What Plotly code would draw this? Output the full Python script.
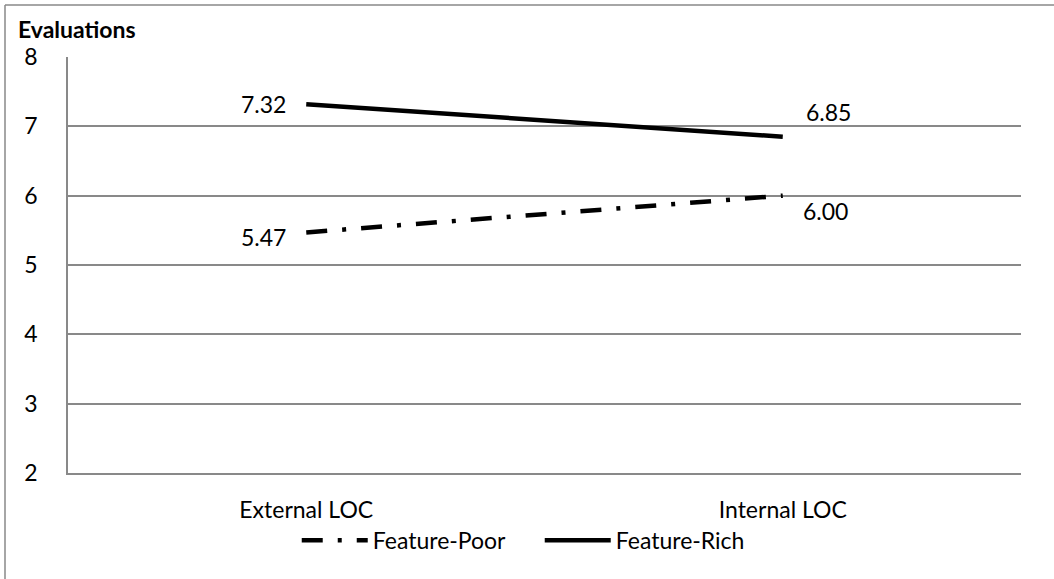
import plotly.graph_objects as go

# Locus-of-control conditions and mean evaluations per product type
conditions = ["External LOC", "Internal LOC"]
feature_poor = [5.47, 6.00]
feature_rich = [7.32, 6.85]
y_ticks = [2, 3, 4, 5, 6, 7, 8]

FONT = "Lato"
FS = 23
GRID = "#898989"

fig = go.Figure()

fig.add_trace(go.Scatter(
    x=conditions, y=feature_poor, name="Feature-Poor",
    mode="lines",
    line=dict(color="black", width=4.5, dash="21px,15px,4px,15px"),
))
fig.add_trace(go.Scatter(
    x=conditions, y=feature_rich, name="Feature-Rich",
    mode="lines",
    line=dict(color="black", width=4.5),
))

W, H = 1054, 579
ML, MR, MT, MB = 68, 33, 57, 106
pw, ph = W - ML - MR, H - MT - MB


def px_x(p):
    return (p - ML) / pw


def px_y(p):
    return (H - MB - p) / ph


# value labels placed beside each point: (xanchor, xshift, yshift)
label_offsets = {
    "Feature-Poor": [("right", -18, -5), ("left", 18, -15)],
    "Feature-Rich": [("right", -18, 0), ("left", 21, 25)],
}
series = {"Feature-Poor": feature_poor, "Feature-Rich": feature_rich}

annotations = []
for name, values in series.items():
    for cat, val, (anchor, dx, dy) in zip(conditions, values, label_offsets[name]):
        annotations.append(dict(
            x=cat, y=val, xref="x", yref="y", text=f"{val:.2f}",
            xanchor=anchor, yanchor="middle", xshift=dx, yshift=dy,
            showarrow=False, font=dict(family=FONT, size=FS, color="black"),
        ))

annotations.append(dict(
    text="<b>Evaluations</b>", xref="paper", yref="paper",
    x=px_x(16), y=px_y(29), xanchor="left", yanchor="middle",
    showarrow=False, font=dict(family=FONT, size=23, color="black"),
))

fig.update_layout(
    width=W, height=H,
    margin=dict(l=ML, r=MR, t=MT, b=MB),
    paper_bgcolor="white", plot_bgcolor="white",
    font=dict(family=FONT, size=FS, color="black"),
    showlegend=True,
    legend=dict(
        orientation="h", x=0.495, xanchor="center", y=-0.11, yanchor="top",
        font=dict(family=FONT, size=FS, color="black"),
        itemwidth=66, tracegroupgap=0, entrywidth=162,
    ),
    xaxis=dict(
        type="category", range=[-0.5, 1.5],
        showgrid=False, showline=True, linecolor=GRID, linewidth=1.5,
        ticks="", ticklabelstandoff=16,
        tickfont=dict(family=FONT, size=FS, color="black"),
    ),
    yaxis=dict(
        range=[2, 8], tickvals=y_ticks,
        showgrid=True, gridcolor=GRID, gridwidth=1.5,
        showline=True, linecolor=GRID, linewidth=1.5,
        zeroline=False, ticks="", ticklabelstandoff=24,
        tickfont=dict(family=FONT, size=FS, color="black"),
    ),
    annotations=annotations,
    shapes=[
        dict(type="line", xref="paper", yref="paper",
             x0=px_x(5), x1=px_x(W + 5), y0=px_y(5), y1=px_y(5),
             line=dict(color=GRID, width=1.5)),
        dict(type="line", xref="paper", yref="paper",
             x0=px_x(5), x1=px_x(5), y0=px_y(5), y1=px_y(H + 5),
             line=dict(color=GRID, width=1.5)),
    ],
)

fig.write_html("out.html")
